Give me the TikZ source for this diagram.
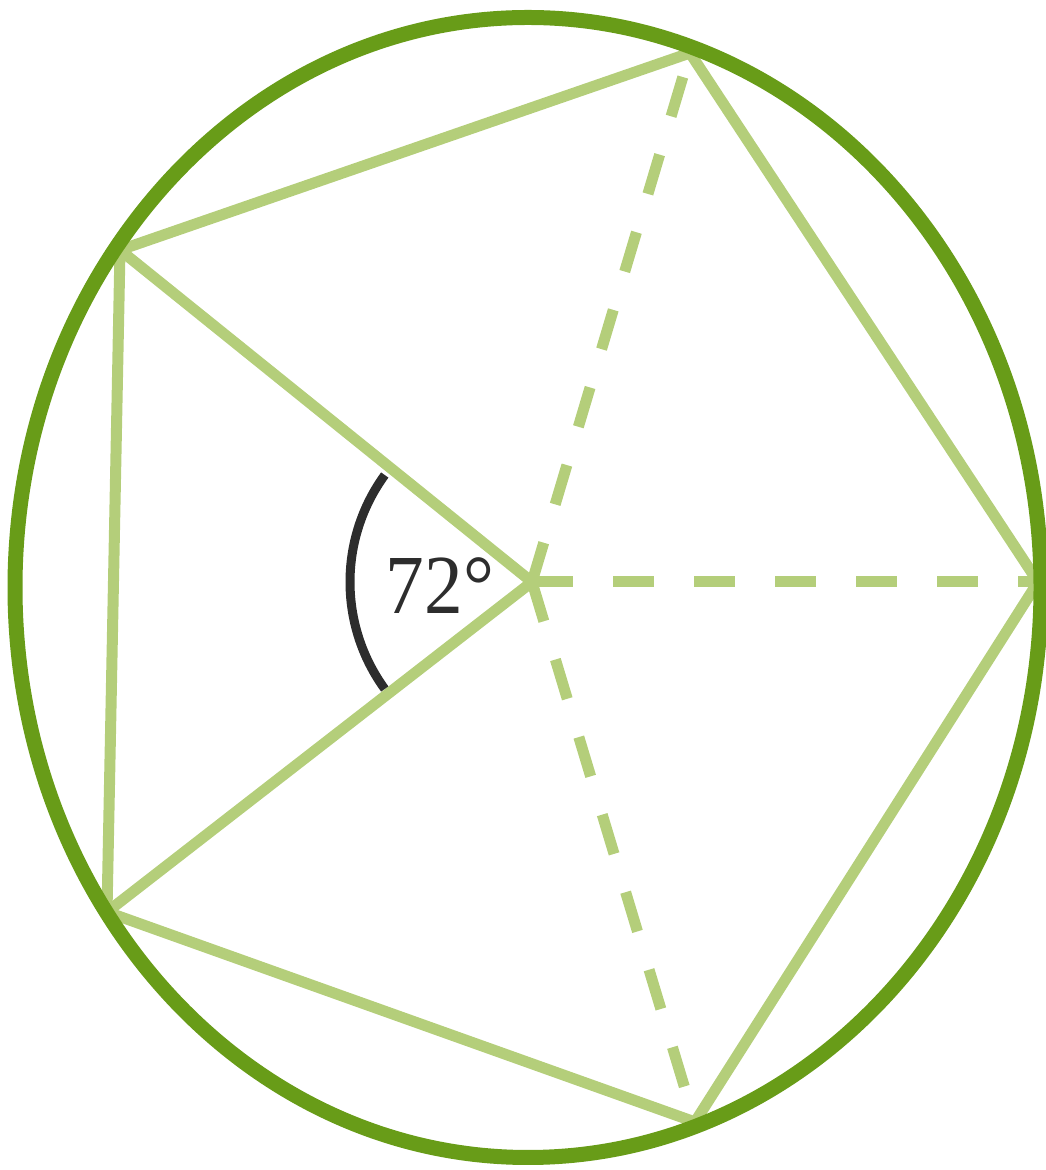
\documentclass[tikz,border=0pt]{standalone}
\usepackage{fontspec}
\setmainfont{Liberation Serif}[Numbers=Lining]
\definecolor{lightgreen}{RGB}{180,206,122}
\definecolor{darkgreen}{RGB}{104,156,24}
\definecolor{arcgray}{RGB}{45,45,45}
\tikzset{
  edgeline/.style={draw=lightgreen, line width=11pt, line join=miter},
  spokedash/.style={draw=lightgreen, line width=11pt, dash pattern=on 41pt off 40pt},
  rimline/.style={draw=darkgreen, line width=15pt},
  anglearc/.style={draw=arcgray, line width=9pt},
  anglelabel/.style={text=arcgray, font=\fontsize{84}{90}\selectfont, inner sep=0pt, xscale=0.92}
}
\begin{document}
\begin{tikzpicture}[x=1pt,y=1pt]
\useasboundingbox (0,0) rectangle (1046,1170);
\coordinate (O) at (532,588);
\coordinate (A) at (690,1117);
\coordinate (B) at (120,920);
\coordinate (C) at (107,258);
\coordinate (D) at (695,48);
\coordinate (E) at (1038,588);
% pentagon
\path[edgeline] (A) -- (B) -- (C) -- (D) -- (E) -- cycle;
% solid spokes
\path[edgeline] (O) -- (B);
\path[edgeline] (O) -- (C);
% dashed spokes
\path[spokedash] (O) -- (A);
\path[spokedash] (O) -- (E);
\path[spokedash] (O) -- (D);
% circumscribed ellipse
\path[rimline] (528,582.5) ellipse [x radius=513, y radius=570];
% angle arc
\path[anglearc] ([shift={(144:182)}]O) arc[start angle=144, end angle=216, radius=182];
\node[anglelabel] (lbl) at (440,584) {72°};
\end{tikzpicture}
\end{document}
